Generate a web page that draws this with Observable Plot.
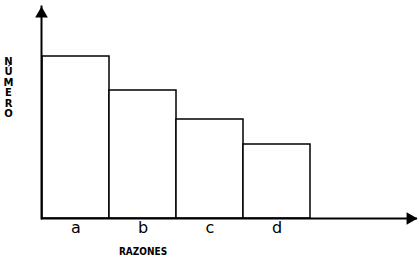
<!DOCTYPE html>
<html>
<head>
<meta charset="utf-8">
<script src="https://cdn.jsdelivr.net/npm/d3@7"></script>
<script src="https://cdn.jsdelivr.net/npm/@observablehq/plot@0.6"></script>
<style>
  html, body { margin: 0; padding: 0; background: #fff; }
  svg { display: block; }
</style>
</head>
<body>
<div id="chart"></div>
<script>
const categories = ["a", "b", "c", "d"];
const values = [162, 128, 99, 74];
const xTitle = "RAZONES";
const yTitle = "NÚMERO";

const data = categories.map((c, i) => ({cat: c, value: values[i]}));

const chart = Plot.plot({
  width: 418,
  height: 262,
  marginLeft: 41,
  marginRight: 1,
  marginTop: 6,
  marginBottom: 44,
  style: {background: "#fff", color: "#000"},
  x: {type: "band", domain: categories, range: [41, 310], padding: 0},
  y: {domain: [0, 212], axis: null},
  marks: [
    Plot.barY(data, {x: "cat", y: "value", fill: "#fff", stroke: "#000", strokeWidth: 1.5}),
    Plot.frame({anchor: "left", stroke: "#000", strokeWidth: 2}),
    Plot.ruleY([0], {stroke: "#000", strokeWidth: 2}),
    Plot.dot([0], {frameAnchor: "top-left", dy: 7.3, symbol: "triangle", r: 4.7, fill: "#000", stroke: null}),
    Plot.dot([0], {frameAnchor: "bottom-right", dx: -7.3, symbol: "triangle", rotate: 90, r: 4.7, fill: "#000", stroke: null}),
    Plot.axisX({tickSize: 0, tickPadding: 3, fontSize: 16, fontFamily: "DejaVu Sans", label: null}),
    Plot.text([xTitle], {x: ["b"], frameAnchor: "bottom", dy: 36, fontSize: 10, fontWeight: "bold", fontFamily: "DejaVu Sans Condensed, DejaVu Sans", fontStretch: "condensed"}),
    Plot.text([yTitle.split("").join("\n")], {frameAnchor: "left", dx: -33, dy: -25, fontSize: 10, lineHeight: 1.05, fontWeight: "bold", fontFamily: "DejaVu Sans", textAnchor: "middle"})
  ]
});
document.getElementById("chart").appendChild(chart);
</script>
</body>
</html>
